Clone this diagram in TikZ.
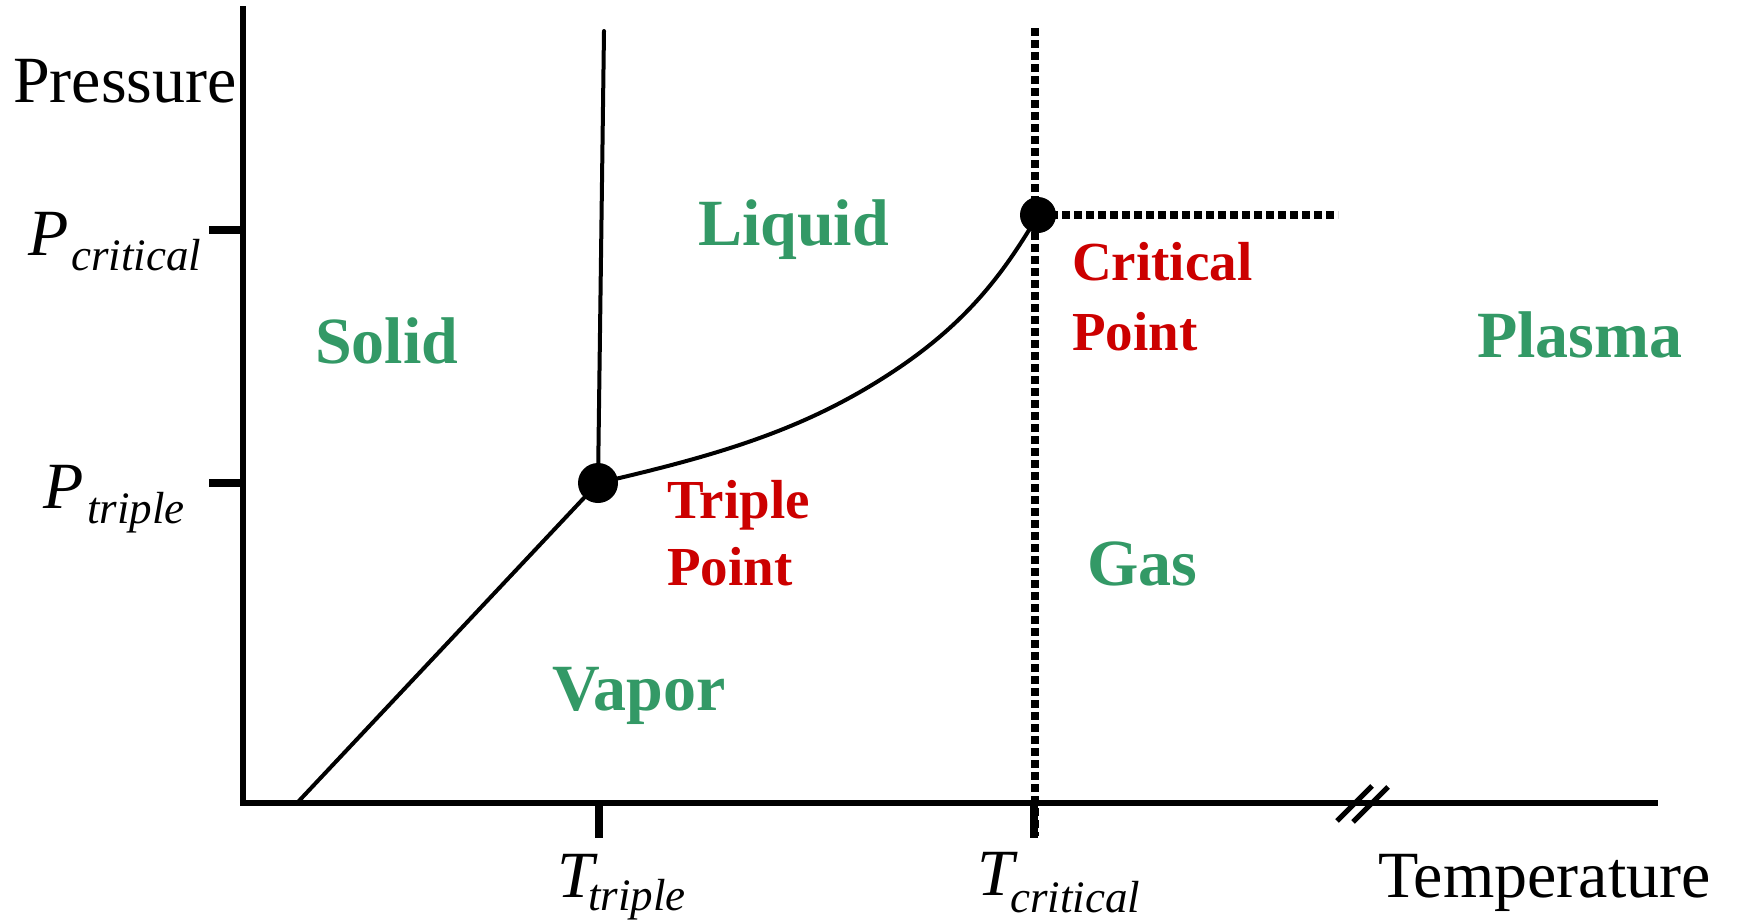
\documentclass[tikz,border=0pt]{standalone}
\usepackage{fontspec}
\setmainfont{Liberation Serif}
\definecolor{phasegreen}{RGB}{51,153,102}
\definecolor{ptred}{RGB}{204,0,0}
\begin{document}
\begin{tikzpicture}[x=1pt,y=-1pt,
  axis/.style={line width=6pt, line join=miter},
  tickline/.style={line width=8pt},
  curve/.style={line width=4pt, line join=round, line cap=round},
  dotline/.style={line width=8pt, dash pattern=on 8pt off 4pt},
  breakmark/.style={line width=5pt},
  phase/.style={text=phasegreen, font=\fontsize{66}{70}\selectfont\bfseries, anchor=base west, inner sep=0pt},
  ptlabel/.style={text=ptred, font=\fontsize{55}{60}\selectfont\bfseries, anchor=base west, inner sep=0pt},
  axlabel/.style={font=\fontsize{66}{70}\selectfont, anchor=base west, inner sep=0pt},
  sym/.style={font=\fontsize{66}{70}\selectfont\itshape, anchor=base west, inner sep=0pt},
  subs/.style={font=\fontsize{45}{50}\selectfont\itshape, anchor=base west, inner sep=0pt}]
\useasboundingbox (0,0) rectangle (1737,921);
\fill[white] (0,0) rectangle (1737,921);

% axes
\coordinate (O) at (243,803);
\coordinate (ytop) at (243,6);
\coordinate (xend) at (1658,803);
\draw[axis] (ytop) -- (O) -- (xend);

% ticks
\coordinate (pc) at (243,230);
\coordinate (pcl) at (209,230);
\coordinate (pt) at (243,483);
\coordinate (ptl) at (209,483);
\coordinate (tt) at (599,803);
\coordinate (ttb) at (599,838);
\coordinate (tc) at (1034,803);
\coordinate (tcb) at (1034,838);
\draw[tickline] (pcl) -- (pc);
\draw[tickline] (ptl) -- (pt);
\draw[tickline] (tt) -- (ttb);
\draw[tickline] (tc) -- (tcb);

% break marks
\coordinate (b1a) at (1337,821);
\coordinate (b1b) at (1372,786);
\coordinate (b2a) at (1353,822);
\coordinate (b2b) at (1388,787);
\draw[breakmark] (b1a) -- (b1b);
\draw[breakmark] (b2a) -- (b2b);

% phase boundaries
\coordinate (TP) at (598,483);
\coordinate (CP) at (1038,215);
\coordinate (mid) at (880,380);
\coordinate (svstart) at (297,803);
\coordinate (sltop) at (604,31);
\draw[curve] (svstart) -- (TP);
\draw[curve] (TP) -- (sltop);
\draw[curve] (TP) .. controls (720,455) and (800,430) .. (mid)
  .. controls (960,330) and (1000,280) .. (CP);

% dotted critical lines
\coordinate (vtop) at (1035,28);
\coordinate (vbot) at (1035,836);
\coordinate (hend) at (1338,215);
\draw[dotline] (vtop) -- (vbot);
\draw[dotline] (CP) -- (hend);

% points
\fill (TP) circle[radius=20];
\fill (CP) circle[radius=18];

% axis labels
\node[axlabel] (pressure) at (13,102) {Pressure};
\node[axlabel] (temperature) at (1378,897) {Temperature};
\node[sym] (Pc) at (28,255) {P};
\node[subs] (Pcs) at (71,270) {critical};
\node[sym] (Ptr) at (43,508) {P};
\node[subs] (Ptrs) at (87,523) {triple};
\node[sym] (Ttr) at (557,897) {T};
\node[subs] (Ttrs) at (588,910) {triple};
\node[sym] (Tcr) at (977,895) {T};
\node[subs] (Tcrs) at (1010,912) {critical};

% phase labels
\node[phase] (liquid) at (698,245) {Liquid};
\node[phase] (solid) at (315,363) {Solid};
\node[phase] (plasma) at (1477,357) {Plasma};
\node[phase] (gas) at (1087,585) {Gas};
\node[phase] (vapor) at (552,710) {Vapor};

% point labels
\node[ptlabel] (triple1) at (667,518) {Triple};
\node[ptlabel] (triple2) at (667,585) {Point};
\node[ptlabel] (crit1) at (1072,280) {Critical};
\node[ptlabel] (crit2) at (1072,350) {Point};
\end{tikzpicture}
\end{document}
